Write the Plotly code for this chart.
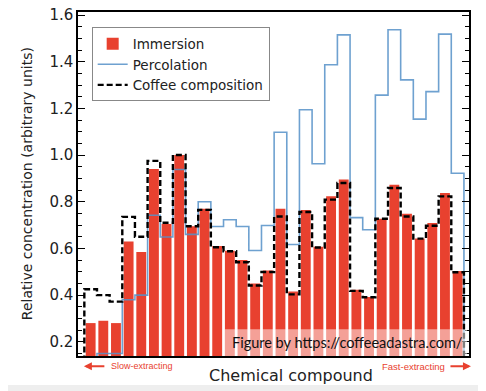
import plotly.graph_objects as go

compounds = list(range(1, 31))
immersion = [0.28, 0.29, 0.28, 0.63, 0.585, 0.94, 0.705, 1.0, 0.695, 0.77,
             0.61, 0.59, 0.55, 0.45, 0.505, 0.77, 0.415, 0.765, 0.607, 0.823,
             0.895, 0.423, 0.392, 0.727, 0.873, 0.749, 0.642, 0.709, 0.837, 0.503]
percolation = [None, 0.15, 0.15, 0.38, 0.40, 0.742, 0.649, 0.938, 0.66, 0.80,
               0.694, 0.723, 0.694, 0.591, 0.698, 1.098, 0.617, 1.194, 0.963, 1.387,
               1.515, 0.732, 0.68, 1.257, 1.537, 1.322, 1.154, 1.272, 1.518, 0.922]
composition = [0.425, 0.40, 0.372, 0.735, 0.65, 0.975, 0.71, 1.0, 0.695, 0.765,
               0.605, 0.588, 0.541, 0.441, 0.499, 0.737, 0.403, 0.756, 0.604, 0.809,
               0.88, 0.418, 0.391, 0.727, 0.859, 0.737, 0.642, 0.697, 0.823, 0.498]
ytick_vals = [0.2, 0.4, 0.6, 0.8, 1.0, 1.2, 1.4, 1.6]

RED = "#e8412f"
BLUE = "rgba(85,145,200,0.85)"


def step_outline(cats, vals, base=0.0):
    pairs = [(c, v) for c, v in zip(cats, vals) if v is not None]
    xs = [pairs[0][0] - 0.5, pairs[0][0] - 0.5]
    ys = [base, pairs[0][1]]
    for c, v in pairs[1:]:
        xs.append(c - 0.5)
        ys.append(v)
    xs.append(pairs[-1][0] + 0.5)
    ys.append(base)
    return xs, ys


fig = go.Figure()
fig.add_trace(go.Bar(x=compounds, y=immersion, width=0.78, marker=dict(color=RED, line=dict(width=0)),
                     name="Immersion"))
px_, py_ = step_outline(compounds, percolation)
fig.add_trace(go.Scatter(x=px_, y=py_, mode="lines", line=dict(color=BLUE, width=1.6, shape="hv"),
                         name="Percolation"))
cx_, cy_ = step_outline(compounds, composition)
fig.add_trace(go.Scatter(x=cx_, y=cy_, mode="lines",
                         line=dict(color="black", width=2.4, shape="hv", dash="6px,3px"),
                         name="Coffee composition"))

font_main = "DejaVu Sans"
TXT = "#222222"
fig.update_layout(
    width=478, height=383,
    margin=dict(l=70, r=17, t=4, b=35, autoexpand=False),
    paper_bgcolor="white", plot_bgcolor="white",
    showlegend=True,
    legend=dict(x=0.035, y=0.955, xanchor="left", yanchor="top",
                bgcolor="white", bordercolor="#888888", borderwidth=1,
                font=dict(family=font_main, size=13.5, color=TXT),
                tracegroupgap=0, itemwidth=30),
    xaxis=dict(range=[0, 30.9], showticklabels=False, ticks="", showgrid=False, zeroline=False,
               showline=True, linecolor="black", linewidth=1.5, mirror=True, automargin=False),
    yaxis=dict(range=[0.139, 1.613], tickvals=ytick_vals, ticktext=[f"{v:.1f}" for v in ytick_vals],
               ticks="inside", ticklen=7, tickwidth=1.3, tickcolor="black",
               minor=dict(dtick=0.05, tick0=0, ticks="inside", ticklen=4, tickcolor="black", tickwidth=1),
               showgrid=False, zeroline=False, showline=True, linecolor="black", linewidth=1.5,
               mirror="ticks", automargin=False, ticklabeloverflow="allow",
               tickfont=dict(family=font_main, size=15, color=TXT)),
    bargap=0.2,
)

# axis titles
fig.add_annotation(xref="paper", yref="paper", x=0.545, y=-0.057, yanchor="middle", xanchor="center",
                   text="Chemical compound", showarrow=False,
                   font=dict(family=font_main, size=16, color=TXT))
fig.add_annotation(xref="paper", yref="paper", x=-0.13, y=0.5, xanchor="center", yanchor="middle",
                   text="Relative concentration (arbitrary units)", textangle=-90, showarrow=False,
                   font=dict(family=font_main, size=14, color=TXT))

# watermark band
fig.add_shape(type="rect", xref="paper", yref="paper", x0=0.375, x1=0.995, y0=0.0, y1=0.078,
              fillcolor="rgba(255,255,255,0.5)", line=dict(width=0), layer="above")
fig.add_annotation(xref="paper", yref="paper", x=0.69, y=0.039, xanchor="center", yanchor="middle",
                   text="Figure by https://coffeeadastra.com/",
                   showarrow=False, font=dict(family="Lato", size=14.5, color="#111111"))

# extraction arrows
fig.add_annotation(xref="paper", yref="paper", x=0.015, y=-0.03, ax=22, ay=0, text="",
                   showarrow=True, arrowhead=2, arrowsize=0.8, arrowwidth=2, arrowcolor=RED)
fig.add_annotation(xref="paper", yref="paper", x=0.08, y=-0.03, text="Slow-extracting",
                   xanchor="left", yanchor="middle", showarrow=False,
                   font=dict(family="Liberation Sans", size=9, color=RED))
fig.add_annotation(xref="paper", yref="paper", x=1.005, y=-0.03, ax=-22, ay=0, text="",
                   showarrow=True, arrowhead=2, arrowsize=0.8, arrowwidth=2, arrowcolor=RED)
fig.add_annotation(xref="paper", yref="paper", x=0.945, y=-0.03, text="Fast-extracting",
                   xanchor="right", yanchor="middle", showarrow=False,
                   font=dict(family="Liberation Sans", size=9.5, color=RED))

# light gray bottom edge of the original picture
fig.add_shape(type="rect", xref="paper", yref="paper", x0=-0.3, x1=1.1, y0=-0.084, y1=-0.11,
              fillcolor="#eeeeee", line=dict(width=0), layer="below")

fig.write_html("out.html")
